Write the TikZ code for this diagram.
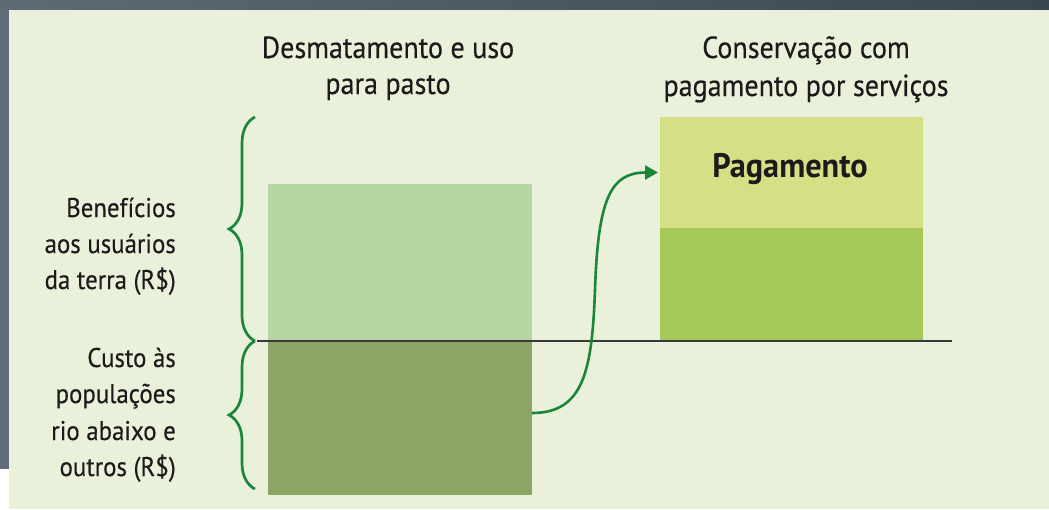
\documentclass[tikz,border=0pt]{standalone}
\usepackage{fontspec}
\setmainfont{PT Sans}[FakeStretch=0.92, FakeBold=0.35]
\newfontfamily\pagfont{PT Sans}[FakeStretch=0.95, UprightFont=* Bold]
\usetikzlibrary{decorations.pathreplacing,arrows.meta}
\definecolor{panel}{HTML}{E9F1DA}
\definecolor{bandL}{HTML}{5F6A76}
\definecolor{bandR}{HTML}{3B4651}
\definecolor{strip}{HTML}{616C78}
\definecolor{lightg}{HTML}{B5D6A0}
\definecolor{darkg}{HTML}{8BA663}
\definecolor{yellowg}{HTML}{D4DF86}
\definecolor{midg}{HTML}{A5C958}
\definecolor{bracec}{HTML}{1B863A}
\definecolor{linec}{HTML}{3A3A3A}
\definecolor{txt}{HTML}{1E1A1B}
\tikzset{
  bar/.style={rectangle, inner sep=0pt, outer sep=0pt, draw=none, anchor=north west},
  titletxt/.style={font=\fontsize{30.5}{36}\selectfont, text=txt, inner sep=0pt, anchor=base},
  labeltxt/.style={font=\fontsize{27}{32}\selectfont, text=txt, inner sep=0pt, anchor=base east},
  bracestyle/.style={draw=bracec, line width=2.7pt, decorate, decoration={brace, amplitude=26pt}},
  flow/.style={draw=bracec, line width=2.6pt, -{Triangle[length=13pt,width=14pt]}}
}
\begin{document}
\begin{tikzpicture}[x=1pt,y=-1pt]
\useasboundingbox (0,0) rectangle (1049,509);
% frame
\fill[panel] (0,0) rectangle (1049,509);
\shade[left color=bandL, right color=bandR] (0,0) rectangle (1049,9);
\fill[strip] (0,9) rectangle (9,469);
\fill[white] (0,469) rectangle (9,509);
% bars
\node[bar, fill=lightg, minimum width=264pt, minimum height=157pt] (ben) at (268,184) {};
\node[bar, fill=darkg, minimum width=264pt, minimum height=154pt] (cost) at (268,341) {};
\node[bar, fill=yellowg, minimum width=263pt, minimum height=111pt] (pag) at (660,117) {};
\node[bar, fill=midg, minimum width=263pt, minimum height=113pt] (cons) at (660,228) {};
\node[font=\pagfont\fontsize{34}{40}\selectfont, text=txt, inner sep=0pt, anchor=base] (pagt) at (790,177) {Pagamento};
% baseline
\coordinate (l1) at (257,341);
\coordinate (l2) at (952,341);
\draw[linec, line width=1.8pt] (l1) -- (l2);
% braces
\coordinate (b1) at (255,341);
\coordinate (b2) at (255,117);
\coordinate (b3) at (255,489);
\draw[bracestyle] (b1) -- (b2);
\draw[bracestyle] (b3) -- (b1);
% arrow
\coordinate (mid) at (595,290);
\draw[flow] ([yshift=5pt]cost.east) .. controls +(52,0) and +(-3,80) .. (mid)
  .. controls +(3,-90) and +(-48,0) .. ([xshift=-2pt]pag.west);
% titles
\node[titletxt] (t1a) at (388,58) {Desmatamento e uso};
\node[titletxt] (t1b) at (388,94) {para pasto};
\node[titletxt] (t2a) at (806,58) {Conservação com};
\node[titletxt] (t2b) at (806,96) {pagamento por serviços};
% labels
\node[labeltxt] (la1) at (176,217) {Benefícios};
\node[labeltxt] (la2) at (176,253) {aos usuários};
\node[labeltxt] (la3) at (176,289) {da terra (R\$)};
\node[labeltxt] (lb1) at (176,367) {Custo às};
\node[labeltxt] (lb2) at (176,403) {populações};
\node[labeltxt] (lb3) at (176,440) {rio abaixo e};
\node[labeltxt] (lb4) at (176,476) {outros (R\$)};
\end{tikzpicture}
\end{document}
